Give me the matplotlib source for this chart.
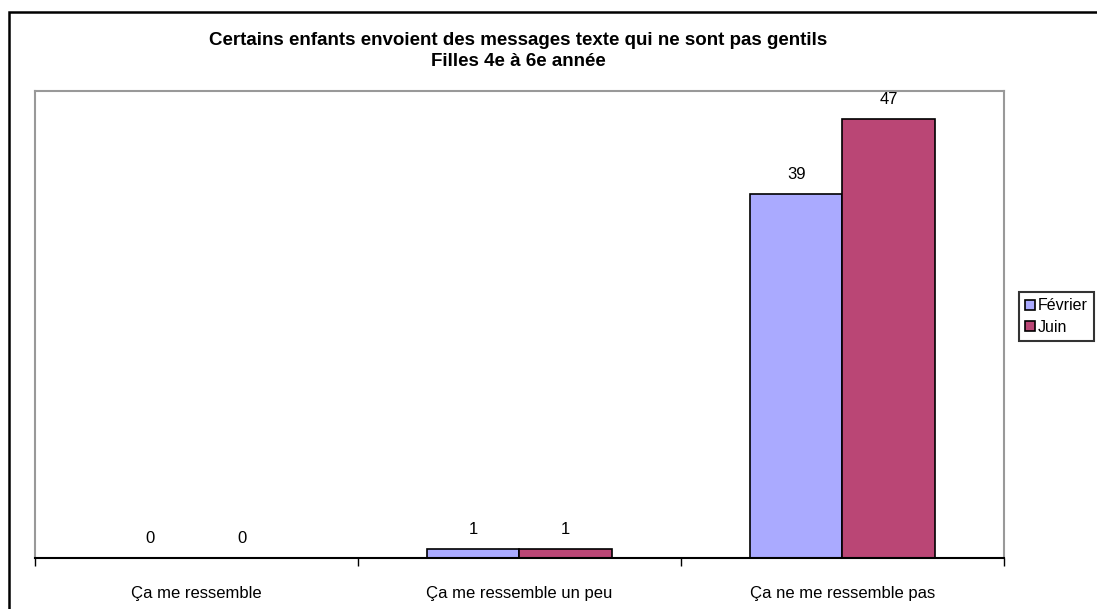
import matplotlib
matplotlib.use("Agg")
import matplotlib.pyplot as plt
from matplotlib.patches import Rectangle
import numpy as np

plt.rcParams['font.family'] = ['Liberation Sans', 'DejaVu Sans']

categories = ["Ça me ressemble", "Ça me ressemble un peu", "Ça ne me ressemble pas"]
series_names = ["Février", "Juin"]
fevrier = [0, 1, 39]
juin = [0, 1, 47]
colors = ["#AAAAFF", "#BA4675"]
title = "Certains enfants envoient des messages texte qui ne sont pas gentils\nFilles 4e à 6e année"

W, H = 1097, 609
fig = plt.figure(figsize=(W / 100, H / 100), dpi=100)

# outer frame (right and bottom edges lie outside the image)
fig.patches.append(Rectangle((8.5 / W, -0.05), 1.1, (H - 12) / H + 0.05,
                             transform=fig.transFigure, fill=False, edgecolor="black",
                             linewidth=1.8, zorder=0))

left, right, top, bottom = 34.5, 1004, 91, 558
ax = fig.add_axes([left / W, 1 - bottom / H, (right - left) / W, (bottom - top) / H])

x = np.arange(len(categories))
bw = 0.286
b1 = ax.bar(x - bw / 2, fevrier, bw, color=colors[0], edgecolor="black", linewidth=1.2, label=series_names[0])
b2 = ax.bar(x + bw / 2, juin, bw, color=colors[1], edgecolor="black", linewidth=1.2, label=series_names[1])

for bars, vals in ((b1, fevrier), (b2, juin)):
    for r, v in zip(bars, vals):
        ax.text(r.get_x() + r.get_width() / 2, v + 1.3, str(v), ha="center", va="bottom", fontsize=12)

ax.set_xlim(-0.5, 2.5)
ax.set_ylim(0, 50)
ax.set_yticks([])
ax.set_xticks([-0.5, 0.5, 1.5, 2.5], minor=False)
ax.set_xticklabels([])
ax.set_xticks(x, minor=True)
ax.set_xticklabels(categories, minor=True, fontsize=12)
ax.tick_params(axis="x", which="major", length=6, width=1, direction="out", color="black")
ax.tick_params(axis="x", which="minor", length=0, pad=20)
for s in ("top", "left", "right"):
    ax.spines[s].set_color("#999999")
    ax.spines[s].set_linewidth(1.5)
ax.spines["bottom"].set_color("black")
ax.spines["bottom"].set_linewidth(1.5)

fig.text(518 / W, 1 - 51 / H, title, ha="center", va="center", fontsize=13.5, fontweight="bold", linespacing=1.35)

leg = fig.legend(handles=[b1, b2], labels=series_names, loc="upper left",
                 bbox_to_anchor=(1019 / W, 1 - 292 / H), fontsize=11.5, frameon=True,
                 fancybox=False, edgecolor="black", handlelength=0.6, handleheight=0.6,
                 handletextpad=0.15, borderpad=0.4, labelspacing=0.4, borderaxespad=0)
leg.get_frame().set_linewidth(1.5)

fig.savefig("out.png", dpi=100)
